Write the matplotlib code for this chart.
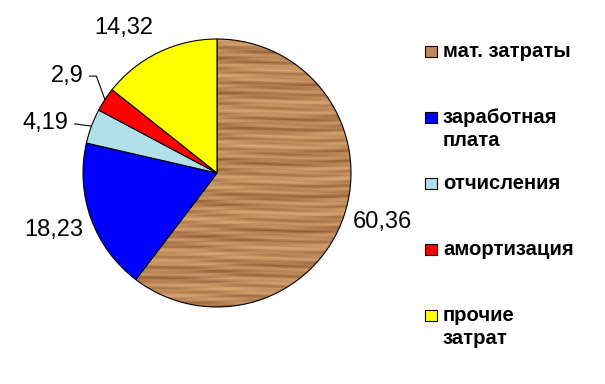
import matplotlib
matplotlib.use("Agg")
import matplotlib.pyplot as plt
import numpy as np
from matplotlib.patches import Rectangle

categories = ["мат. затраты", "заработная\nплата", "отчисления", "амортизация", "прочие\nзатрат"]
values = [60.36, 18.23, 4.19, 2.9, 14.32]
value_labels = ["60,36", "18,23", "4,19", "2,9", "14,32"]
colors = ["#C08A5A", "#0000FF", "#B2E0E8", "#FF0000", "#FFFF00"]

plt.rcParams["font.family"] = ["Liberation Sans", "DejaVu Sans"]

W, H = 605, 384
fig = plt.figure(figsize=(W / 100, H / 100), dpi=100)

# pie centre (217, 173) px, radius 134 px
cx, cy, R = 217, 173, 134
pad = 2
ax = fig.add_axes([(cx - R - pad) / W, (H - cy - R - pad) / H,
                   2 * (R + pad) / W, 2 * (R + pad) / H])
wedges, _ = ax.pie(values, colors=colors, startangle=90, counterclock=False,
                   wedgeprops=dict(edgecolor="black", linewidth=0.8))
lim = (R + pad) / R
ax.set_xlim(-lim, lim)
ax.set_ylim(-lim, lim)
ax.set_aspect("equal")
ax.axis("off")

# wood grain for the first slice
ny, nx = 400, 300
yy = np.linspace(0, 1, ny)[:, None]
xx = np.linspace(0, 1, nx)[None, :]
grain = (np.sin(yy * 150 + 2.5 * np.sin(xx * 6))
         + 0.8 * np.sin(yy * 331 + 1.5 * np.sin(xx * 11 + 1))
         + 0.6 * np.sin(yy * 47 + xx * 3)
         + 0.4 * np.sin(yy * 700 + xx * 20))
g = (grain - grain.min()) / (grain.max() - grain.min())
g = g ** 0.7
light = np.array([0.87, 0.68, 0.47])
dark = np.array([0.52, 0.30, 0.16])
wood = light[None, None, :] * g[..., None] + dark[None, None, :] * (1 - g[..., None])
im = ax.imshow(wood, extent=(-1, 1, -1, 1), zorder=1.5, interpolation="bilinear")
im.set_clip_path(wedges[0])
wedges[0].set_facecolor("none")
for w in wedges:
    w.set_zorder(2)

# value labels
label_r = [1.29, 1.29, 1.33, 1.33, 1.29]
label_shift = [2.2, -0.6, 4.2, 0.3, 7.0]
leader = [None, None, "arc3", "angle,angleA=0,angleB=110", None]
for w, txt, r, sh, ld in zip(wedges, value_labels, label_r, label_shift, leader):
    mid = np.deg2rad((w.theta1 + w.theta2) / 2)
    ang = mid + np.deg2rad(sh)
    tx, ty = r * np.cos(ang), r * np.sin(ang)
    if ld:
        ax.annotate(txt, xy=(np.cos(mid), np.sin(mid)), xytext=(tx, ty),
                    ha="center", va="center", fontsize=17,
                    arrowprops=dict(arrowstyle="-", color="black", lw=0.8,
                                    shrinkA=2, shrinkB=0, connectionstyle=ld,
                                    relpos=(1.0, 0.5)),
                    annotation_clip=False)
    else:
        ax.text(tx, ty, txt, ha="center", va="center", fontsize=17, clip_on=False)

# legend, drawn by hand (entries evenly spaced by first line)
for i, (lab, col) in enumerate(zip(categories, colors)):
    base = 57 + 66 * i
    fig.add_artist(Rectangle((425 / W, (H - base) / H), 12 / W, 11 / H,
                             transform=fig.transFigure, facecolor=col,
                             edgecolor="black", linewidth=0.8))
    for j, line in enumerate(lab.split("\n")):
        fig.text(443 / W, (H - base - 23 * j) / H, line, ha="left", va="baseline",
                 fontsize=14.6, fontweight="bold")

fig.savefig("out.png", dpi=100)
